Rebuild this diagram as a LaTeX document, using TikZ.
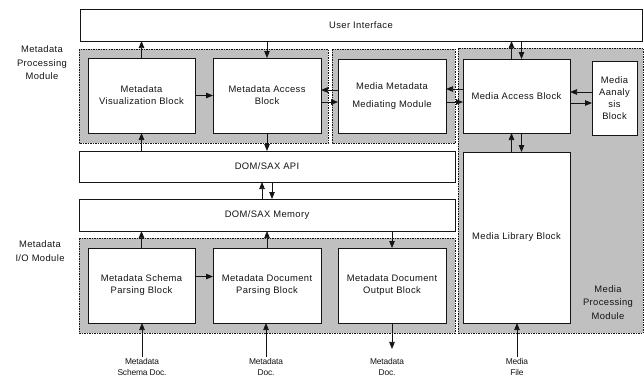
\documentclass[tikz,border=0pt]{standalone}
\usepackage{fontspec}
\setmainfont{Liberation Sans}[LetterSpace=4]
\usetikzlibrary{arrows.meta,calc}
\definecolor{regfill}{RGB}{192,192,192}
\definecolor{ink}{RGB}{20,20,20}
\tikzset{
  box/.style={draw=ink, line width=0.9pt, fill=white, inner sep=0pt, outer sep=0pt,
    align=center, text=ink, font=\fontsize{9.4}{12}\selectfont},
  region/.style={draw=ink, fill=regfill, line width=0.6pt, dash pattern=on 1.5pt off 1pt},
  sidelabel/.style={align=center, text=ink, font=\fontsize{9.4}{13.5}\selectfont, inner sep=0pt},
  doclabel/.style={align=center, text=ink, inner sep=1.5pt,
    font=\fontsize{8.4}{10.5}\selectfont\addfontfeature{LetterSpace=-2}},
  arr/.style={draw=ink, line width=0.75pt, -{Triangle[length=7pt,width=5.5pt]}},
}
\begin{document}
\begin{tikzpicture}[x=1pt,y=-1pt]
\useasboundingbox (0,0) rectangle (644,383);
% shaded module regions
\path[region] (79,49) rectangle (328,143);
\path[region] (332,49) rectangle (455,143);
\path[region] (458,48) rectangle (643,333);
\path[region] (79,238) rectangle (455,333);
% blocks
\node[box, minimum width=562pt, minimum height=32pt] (ui) at (361,25) {User Interface};
\node[box, minimum width=107pt, minimum height=75pt] (vis) at (141.5,95.5) {Metadata\\Visualization Block};
\node[box, minimum width=108pt, minimum height=75pt] (acc) at (267,95.5) {Metadata Access\\Block};
\node[box, minimum width=108pt, minimum height=74pt, font=\fontsize{9.4}{18}\selectfont] (med) at (392,96) {Media Metadata\\Mediating Module};
\node[box, minimum width=107pt, minimum height=74pt] (macc) at (516.5,96) {Media Access Block};
\node[box, minimum width=45pt, minimum height=74pt] (ana) at (614.5,98) {Media\\Aanaly\\sis\\Block};
\node[box, minimum width=376pt, minimum height=31pt] (api) at (267,166.5) {DOM/SAX API};
\node[box, minimum width=107pt, minimum height=171pt] (lib) at (516.5,237.5) {Media Library Block};
\node[box, minimum width=376pt, minimum height=32pt] (mem) at (267,215) {DOM/SAX Memory};
\node[box, minimum width=107pt, minimum height=75pt] (sch) at (141.5,285.5) {Metadata Schema\\Parsing Block};
\node[box, minimum width=108pt, minimum height=75pt] (dpar) at (267,285.5) {Metadata Document\\Parsing Block};
\node[box, minimum width=108pt, minimum height=75pt] (out) at (392,285.5) {Metadata Document\\Output Block};
% side labels
\node[sidelabel] (lproc) at (42,63) {Metadata\\Processing\\Module};
\node[sidelabel] (lio) at (40,251) {Metadata\\I/O Module};
\node[sidelabel] (lmedia) at (608,302.5) {Media\\Processing\\Module};
% document labels
\node[doclabel] (d1) at (142,367) {Metadata\\Schema Doc.};
\node[doclabel] (d2) at (266,367) {Metadata\\Doc.};
\node[doclabel] (d3) at (387,367) {Metadata\\Doc.};
\node[doclabel] (d4) at (517,367) {Media\\File};
% connectors: processing module
\draw[arr] (vis.north) -- (vis.north |- ui.south);
\draw[arr] (acc.north |- ui.south) -- (acc.north);
\draw[arr] (vis.east) -- (acc.west);
\draw[arr] ($(med.west)+(0,-6)$) coordinate (p1) -- (p1 -| acc.east);
\draw[arr] ($(acc.east)+(0,6.5)$) coordinate (p2) -- (p2 -| med.west);
\draw[arr] ($(macc.west)+(0,-7)$) coordinate (p3) -- (p3 -| med.east);
\draw[arr] ($(med.east)+(0,6)$) coordinate (p4) -- (p4 -| macc.west);
\draw[arr] ($(macc.north)+(-5,0)$) coordinate (p5) -- (p5 |- ui.south);
\path ($(macc.north)+(5,0)$) coordinate (p6);
\draw[arr] (p6 |- ui.south) -- (p6);
\draw[arr] ($(ana.west)+(0,-6)$) coordinate (p7) -- (p7 -| macc.east);
\draw[arr] ($(macc.east)+(0,7)$) coordinate (p8) -- (p8 -| ana.west);
\draw[arr] ($(lib.north)+(-5,0)$) coordinate (p9) -- (p9 |- macc.south);
\path ($(lib.north)+(5,0)$) coordinate (p10);
\draw[arr] (p10 |- macc.south) -- (p10);
% API / memory
\draw[arr] (acc.south) -- (acc.south |- api.north);
\draw[arr] (vis.south |- api.north) -- (vis.south);
\draw[arr] ($(mem.north)+(-5,0)$) coordinate (p11) -- (p11 |- api.south);
\path ($(mem.north)+(5,0)$) coordinate (p12);
\draw[arr] (p12 |- api.south) -- (p12);
% I/O module
\draw[arr] (sch.north) -- (sch.north |- mem.south);
\draw[arr] (dpar.north) -- (dpar.north |- mem.south);
\draw[arr] (out.north |- mem.south) -- (out.north);
\draw[arr] ($(sch.east)+(0,-9)$) coordinate (p13) -- (p13 -| dpar.west);
% documents
\draw[arr] (d1.north) -- (d1.north |- sch.south);
\draw[arr] (d2.north) -- (d2.north |- dpar.south);
\draw[arr, shorten >=8pt] (out.south) -- (out.south |- d3.north);
\draw[arr] (d4.north) -- (d4.north |- lib.south);
\end{tikzpicture}
\end{document}
